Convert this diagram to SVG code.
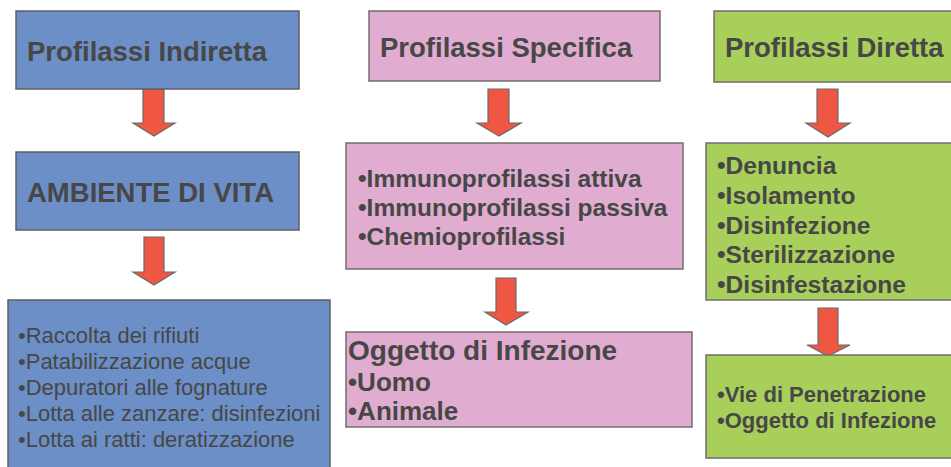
<svg xmlns="http://www.w3.org/2000/svg" width="951" height="467" viewBox="0 0 951 467">
<style>
.blue{fill:#6b8fc6;stroke:#5f5f5f;stroke-width:1.5}
.pink{fill:#e0acd0;stroke:#6f6f6f;stroke-width:1.5}
.green{fill:#a8cf5a;stroke:#6f6f6f;stroke-width:1.5}
.arrow{fill:#f05743;stroke:#6a6a6a;stroke-width:1.2;stroke-linejoin:miter}
text{font-family:"Liberation Sans",Arial,sans-serif;fill:#474747}
.h{font-size:27.5px;font-weight:bold}
.b{font-weight:bold}
</style>
<rect width="951" height="467" fill="#ffffff"/>
<g id="connectors">
<polygon class="arrow" points="143,89 164,89 164,123 175,123 154,136 133,123 143,123"/>
<polygon class="arrow" points="144,237 164,237 164,272 175,272 154,285 133,272 144,272"/>
<polygon class="arrow" points="488,89 509,89 509,123 521,123 499,136 477,123 488,123"/>
<polygon class="arrow" points="496,278 516,278 516,312 528,312 506,325 485,312 496,312"/>
<polygon class="arrow" points="817,89 838,89 838,123 850,123 828,137 806,123 817,123"/>
<polygon class="arrow" points="818,308 838,308 838,345 850,345 828,356 807,345 818,345"/>
</g>
<g id="indiretta">
<rect class="blue" x="16" y="11" width="283" height="78"/>
<text class="h" x="27" y="61">Profilassi Indiretta</text>
</g>
<g id="ambiente">
<rect class="blue" x="16" y="152" width="283" height="78"/>
<text class="h" x="27" y="202" font-size="28">AMBIENTE DI VITA</text>
</g>
<g id="ambiente-azioni">
<rect class="blue" x="8" y="300" width="322" height="175"/>
<text x="18" y="343" font-size="22">•Raccolta dei rifiuti</text>
<text x="18" y="369" font-size="22">•Patabilizzazione acque</text>
<text x="18" y="395" font-size="22">•Depuratori alle fognature</text>
<text x="18" y="421" font-size="22">•Lotta alle zanzare: disinfezioni</text>
<text x="18" y="447" font-size="22">•Lotta ai ratti: deratizzazione</text>
</g>
<g id="specifica">
<rect class="pink" x="369" y="11" width="291" height="70"/>
<text class="h" x="380" y="57">Profilassi Specifica</text>
</g>
<g id="specifica-tipi">
<rect class="pink" x="346" y="143" width="337" height="126"/>
<text class="b" x="358" y="187" font-size="24.5">•Immunoprofilassi attiva</text>
<text class="b" x="358" y="216" font-size="24.5">•Immunoprofilassi passiva</text>
<text class="b" x="358" y="245" font-size="24.5">•Chemioprofilassi</text>
</g>
<g id="oggetto">
<rect class="pink" x="346" y="332" width="346" height="95"/>
<text class="b" x="348" y="360" font-size="28">Oggetto di Infezione</text>
<text class="b" x="348" y="391" font-size="26">•Uomo</text>
<text class="b" x="348" y="420" font-size="26">•Animale</text>
</g>
<g id="diretta">
<rect class="green" x="714" y="11" width="245" height="71"/>
<text class="h" x="725" y="57">Profilassi Diretta</text>
</g>
<g id="diretta-azioni">
<rect class="green" x="706" y="143" width="253" height="157"/>
<text class="b" x="717" y="174" font-size="24.6">•Denuncia</text>
<text class="b" x="717" y="204" font-size="24.6">•Isolamento</text>
<text class="b" x="717" y="234" font-size="24.6">•Disinfezione</text>
<text class="b" x="717" y="263" font-size="24.6">•Sterilizzazione</text>
<text class="b" x="717" y="293" font-size="24.6">•Disinfestazione</text>
</g>
<g id="diretta-oggetti">
<rect class="green" x="706" y="355" width="253" height="103"/>
<text class="b" x="717" y="402" font-size="22">•Vie di Penetrazione</text>
<text class="b" x="717" y="428" font-size="22">•Oggetto di Infezione</text>
</g>
</svg>
